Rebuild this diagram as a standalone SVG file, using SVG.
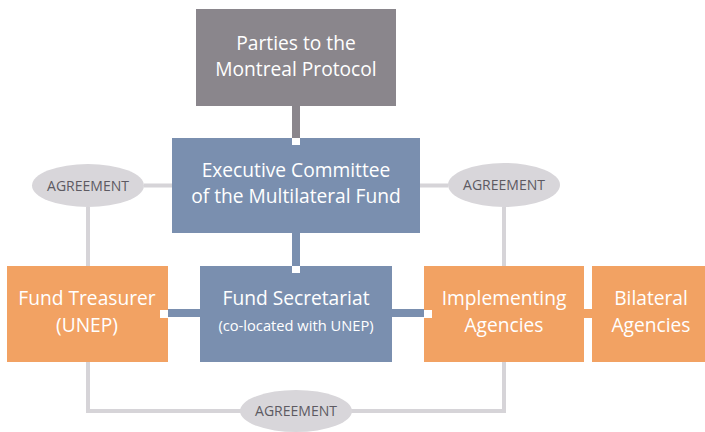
<svg xmlns="http://www.w3.org/2000/svg" width="705" height="432" viewBox="0 0 705 432">
<style>
.t{font-family:"Open Sans","Noto Sans","DejaVu Sans",sans-serif;fill:#fff;text-anchor:middle;font-size:19.2px}
.s{font-size:14.7px}
.a{font-family:"Open Sans","Noto Sans","DejaVu Sans",sans-serif;fill:#5d5a62;text-anchor:middle;font-size:14px}
.ln{stroke:#d6d4d8;stroke-width:4;fill:none}
.ell{fill:#d8d6da}
.gray{fill:#8a868c}
.blue{fill:#7a8faf}
.org{fill:#f2a263}
.w{fill:#fff}
</style>
<rect width="705" height="432" fill="#fff"/>
<g id="connectors">
<path class="ln" d="M144 185.5H172M420 185.5H448M88 207V266M504 207V266M88 362V411H504V362"/>
<rect class="gray" x="292" y="106" width="8" height="32"/>
<rect class="blue" x="292" y="233" width="8" height="33"/>
<rect class="blue" x="168" y="309" width="32" height="8"/>
<rect class="blue" x="392" y="309" width="32" height="8"/>
<rect class="org" x="584" y="309" width="8" height="9"/>
</g>
<g id="parties"><rect class="gray" x="196" y="9" width="200" height="97"/>
<text class="t" x="296" y="50">Parties to the</text><text class="t" x="296" y="76">Montreal Protocol</text></g>
<g id="exec"><rect class="blue" x="172" y="138" width="248" height="95"/>
<rect class="w" x="292" y="138" width="8" height="7"/>
<text class="t" x="296" y="177">Executive Committee</text><text class="t" x="296" y="203">of the Multilateral Fund</text></g>
<g id="secretariat"><rect class="blue" x="200" y="266" width="192" height="96"/>
<rect class="w" x="292" y="266" width="8" height="7"/>
<text class="t" x="296" y="305">Fund Secretariat</text><text class="t s" x="296" y="331">(co-located with UNEP)</text></g>
<g id="treasurer"><rect class="org" x="7" y="266" width="161" height="96"/>
<rect class="w" x="160" y="310" width="8" height="8"/>
<text class="t" x="87" y="305">Fund Treasurer</text><text class="t" x="87" y="332">(UNEP)</text></g>
<g id="implementing"><rect class="org" x="424" y="266" width="160" height="96"/>
<rect class="w" x="424" y="310" width="8" height="8"/>
<text class="t" x="504" y="305">Implementing</text><text class="t" x="504" y="332">Agencies</text></g>
<g id="bilateral"><rect class="org" x="592" y="266" width="113" height="96"/>
<text class="t" x="651" y="305">Bilateral</text><text class="t" x="651" y="332">Agencies</text></g>
<g id="agreement-left"><ellipse class="ell" cx="88" cy="185.5" rx="56" ry="21.5"/><text class="a" x="88" y="190.5">AGREEMENT</text></g>
<g id="agreement-right"><ellipse class="ell" cx="504" cy="185" rx="56" ry="22"/><text class="a" x="504" y="190">AGREEMENT</text></g>
<g id="agreement-bottom"><ellipse class="ell" cx="296" cy="411" rx="56" ry="21"/><text class="a" x="296" y="416">AGREEMENT</text></g>
</svg>
